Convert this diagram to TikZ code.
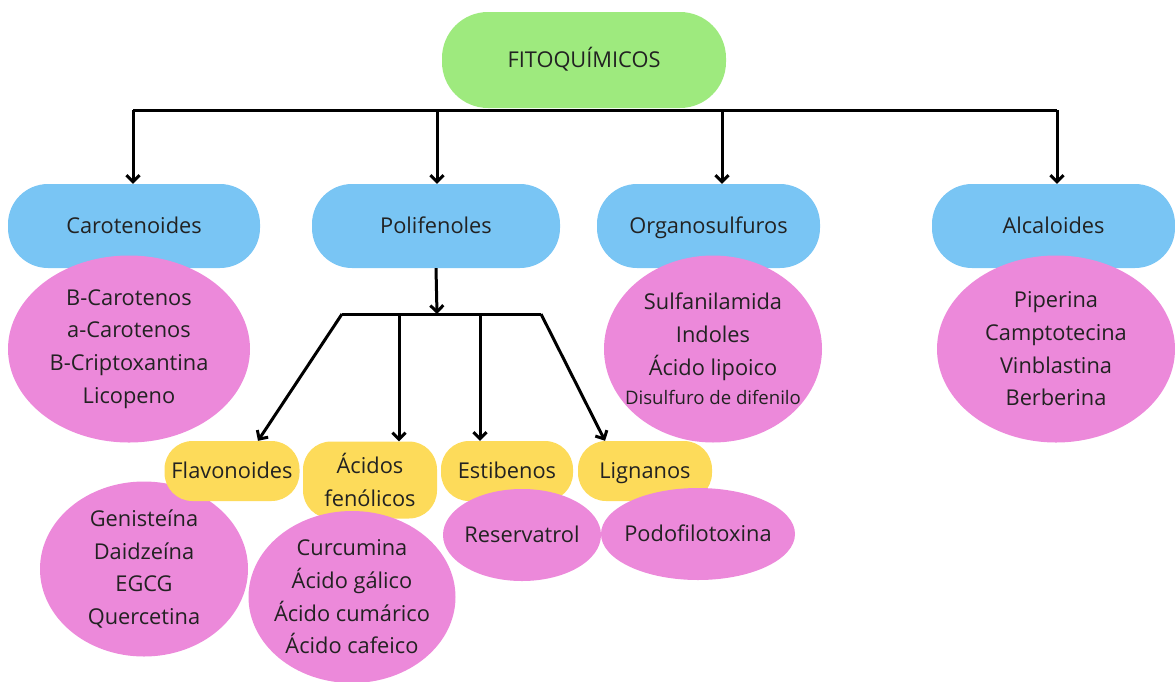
\documentclass[tikz,border=0pt]{standalone}
\usepackage{fontspec}
\setmainfont{Open Sans}
\usetikzlibrary{arrows.meta,shapes.geometric}
\definecolor{fgreen}{HTML}{9EEA7E}
\definecolor{fblue}{HTML}{79C5F4}
\definecolor{fpink}{HTML}{EC89DA}
\definecolor{fyellow}{HTML}{FDDB5A}
\definecolor{ftext}{HTML}{222222}
\begin{document}
\begin{tikzpicture}[x=1pt,y=-1pt,
  every node/.style={text=ftext,font=\fontsize{21.8}{32.7}\selectfont},
  oneline/.style={text height=18.5pt, text depth=3pt},
  topbox/.style={fill=fgreen, rounded corners=46pt, minimum width=284pt, minimum height=96pt, inner sep=0pt, oneline},
  catbox/.style={fill=fblue, rounded corners=40pt, minimum height=84pt, inner sep=0pt, oneline},
  listell/.style={ellipse, fill=fpink, inner xsep=-40pt, inner ysep=0pt, align=center},
  subbox/.style={fill=fyellow, rounded corners=28pt, minimum height=60pt, inner sep=0pt, align=center},
  conn/.style={line width=3pt, draw=black},
  arr/.style={conn, -{Straight Barb[length=6.5pt,width=13pt]}}]
\useasboundingbox (0,0) rectangle (1175,681);

% coordinates for connectors
\coordinate (t1) at (133,110);
\coordinate (t2) at (437,110);
\coordinate (t3) at (722,110);
\coordinate (t4) at (1057,110);
\coordinate (pb) at (437,314);
\coordinate (pl) at (342,314);
\coordinate (p2) at (399,314);
\coordinate (p3) at (480,314);
\coordinate (pr) at (541,314);

% top level
\node[topbox] (fito) at (584,60) {FITOQUÍMICOS};

% categories
\node[catbox, minimum width=252pt] (caro) at (134,226) {Carotenoides};
\node[catbox, minimum width=248pt] (poli) at (436,226) {Polifenoles};
\node[catbox, minimum width=223pt] (orga) at (708.5,226) {Organosulfuros};
\node[catbox, minimum width=243pt] (alca) at (1053.5,226) {Alcaloides};

% lists
\node[listell, minimum width=242pt, minimum height=187pt] (carol) at (129,349)
  {B-Carotenos\\a-Carotenos\\B-Criptoxantina\\Licopeno};
\node[listell, minimum width=218pt, minimum height=187pt] (orgal) at (713,349)
  {Sulfanilamida\\Indoles\\Ácido lipoico\\[-3pt]{\fontsize{18.6}{20}\selectfont Disulfuro de difenilo}};
\node[listell, minimum width=238pt, minimum height=187pt] (alcal) at (1056,349)
  {Piperina\\Camptotecina\\Vinblastina\\Berberina};

% polifenol subclasses
\node[listell, minimum width=208pt, minimum height=175pt] (flavl) at (144,569)
  {Genisteína\\Daidzeína\\EGCG\\Quercetina};
\node[subbox, oneline, minimum width=135pt] (flav) at (232,471) {Flavonoides};
\node[subbox, minimum width=134pt, minimum height=77pt] (acid) at (370,480) {Ácidos\\fenólicos};
\node[subbox, oneline, minimum width=132pt] (esti) at (507,471) {Estibenos};
\node[subbox, oneline, minimum width=134pt] (lign) at (645,471) {Lignanos};
\node[listell, minimum width=207pt, minimum height=172pt] (acidl) at (352,597)
  {Curcumina\\Ácido gálico\\Ácido cumárico\\Ácido cafeico};
\node[listell, oneline, minimum width=158pt, minimum height=92pt] (estil) at (522,535) {Reservatrol};
\node[listell, oneline, minimum width=194pt, minimum height=92pt] (lignl) at (698,534) {Podofilotoxina};

% connectors
\draw[conn] (t1) -- (t4);
\draw[arr] (t1) -- (t1 |- caro.north);
\draw[arr] (t2) -- (t2 |- poli.north);
\draw[arr] (t3) -- (t3 |- orga.north);
\draw[arr] (t4) -- (t4 |- alca.north);

\draw[arr] (poli.south) -- (pb);
\draw[conn] (pl) -- (pr);
\draw[arr] (pl) -- ([xshift=26pt]flav.north);
\draw[arr] (p2) -- (p2 |- acid.north);
\draw[arr] (p3) -- (p3 |- esti.north);
\draw[arr] (pr) -- ([xshift=-40pt]lign.north);
\end{tikzpicture}
\end{document}
